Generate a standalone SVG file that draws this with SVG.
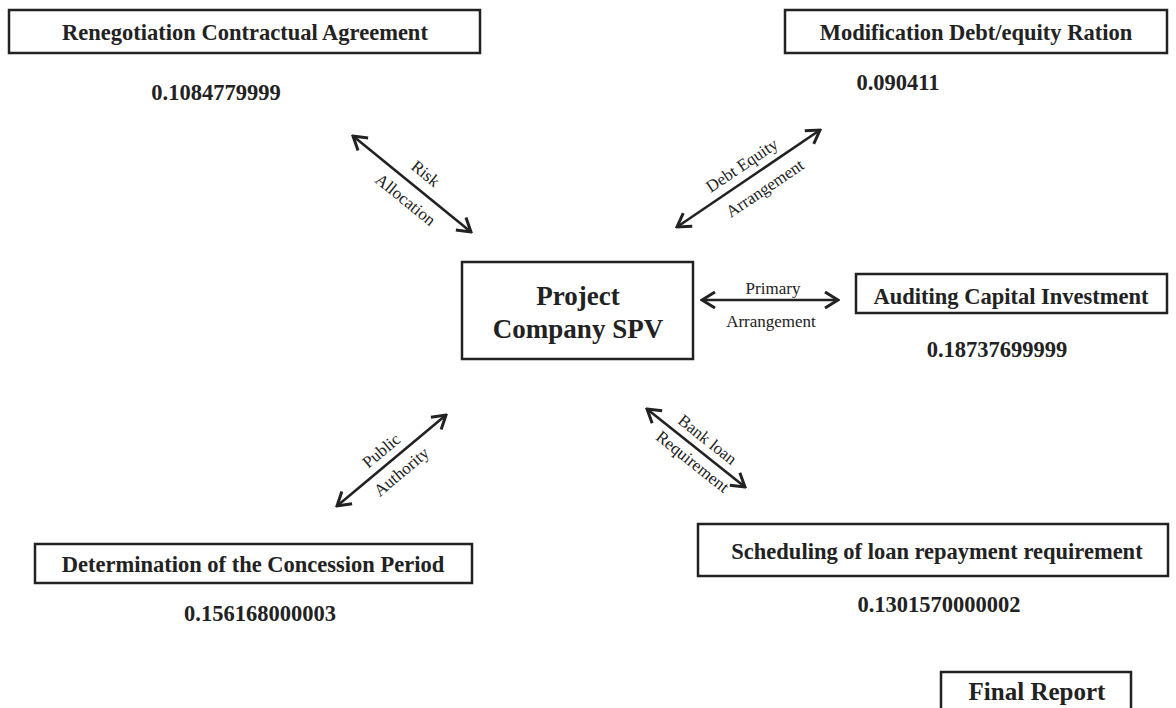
<svg xmlns="http://www.w3.org/2000/svg" width="1176" height="708" viewBox="0 0 1176 708">
<style>
.box{fill:#fff;stroke:#222;stroke-width:2.5}
.t{font-family:"Liberation Serif","Times New Roman",serif;font-weight:bold;fill:#222;text-anchor:middle}
.lbl{font-family:"Liberation Serif","Times New Roman",serif;font-size:17px;fill:#222;text-anchor:middle}
.c{stroke:#222;stroke-width:2.6;fill:none;marker-start:url(#ah);marker-end:url(#ah)}
</style>
<defs>
<marker id="ah" viewBox="-16 -10 18 20" refX="0" refY="0" markerWidth="18" markerHeight="20" markerUnits="userSpaceOnUse" orient="auto-start-reverse">
<path d="M-13,-8 L0,0 L-13,8" fill="none" stroke="#222" stroke-width="3" stroke-linejoin="miter"/>
</marker>
</defs>
<rect width="1176" height="708" fill="#fff"/>
<g id="renegotiation">
<rect class="box" x="9" y="10" width="471" height="43"/>
<text class="t" x="245" y="40" font-size="22.5">Renegotiation Contractual Agreement</text>
<text class="t" x="216" y="100" font-size="22.5">0.1084779999</text>
</g>
<g id="modification">
<rect class="box" x="785" y="10" width="382" height="43"/>
<text class="t" x="976" y="40" font-size="22.5">Modification Debt/equity Ration</text>
<text class="t" x="898" y="90" font-size="22.5">0.090411</text>
</g>
<g id="project">
<rect class="box" x="462" y="262" width="231" height="97"/>
<text class="t" x="578" y="305" font-size="27">Project</text>
<text class="t" x="578" y="338" font-size="27">Company SPV</text>
</g>
<g id="auditing">
<rect class="box" x="856" y="274" width="311" height="39"/>
<text class="t" x="1011" y="304" font-size="22.5">Auditing Capital Investment</text>
<text class="t" x="997" y="357" font-size="22.5">0.18737699999</text>
</g>
<g id="determination">
<rect class="box" x="35" y="544" width="437" height="39"/>
<text class="t" x="253" y="572" font-size="22.5">Determination of the Concession Period</text>
<text class="t" x="260" y="621" font-size="22.5">0.156168000003</text>
</g>
<g id="scheduling">
<rect class="box" x="698" y="524" width="470" height="52"/>
<text class="t" x="937" y="559" font-size="22.5">Scheduling of loan repayment requirement</text>
<text class="t" x="939" y="612" font-size="22.5">0.1301570000002</text>
</g>
<g id="final">
<rect class="box" x="941" y="672" width="190" height="50"/>
<text class="t" x="1037" y="700" font-size="25">Final Report</text>
</g>
<g id="connectors">
<line class="c" x1="353" y1="136" x2="471" y2="232"/>
<text class="lbl" transform="translate(422,178) rotate(39)">Risk</text>
<text class="lbl" transform="translate(402,204) rotate(39)">Allocation</text>
<line class="c" x1="677" y1="227" x2="820" y2="130"/>
<text class="lbl" transform="translate(745,170) rotate(-34)">Debt Equity</text>
<text class="lbl" transform="translate(768,193) rotate(-34)">Arrangement</text>
<line class="c" x1="702" y1="300" x2="838" y2="300"/>
<text class="lbl" x="773" y="294">Primary</text>
<text class="lbl" x="771" y="327">Arrangement</text>
<line class="c" x1="337" y1="506" x2="446" y2="415"/>
<text class="lbl" transform="translate(385,455) rotate(-40)">Public</text>
<text class="lbl" transform="translate(405,476) rotate(-40)">Authority</text>
<line class="c" x1="647" y1="409" x2="745" y2="487"/>
<text class="lbl" font-size="15" transform="translate(704,444) rotate(38.5)">Bank loan</text>
<text class="lbl" font-size="15" transform="translate(689,466) rotate(38.5)">Requirement</text>
</g>
</svg>
